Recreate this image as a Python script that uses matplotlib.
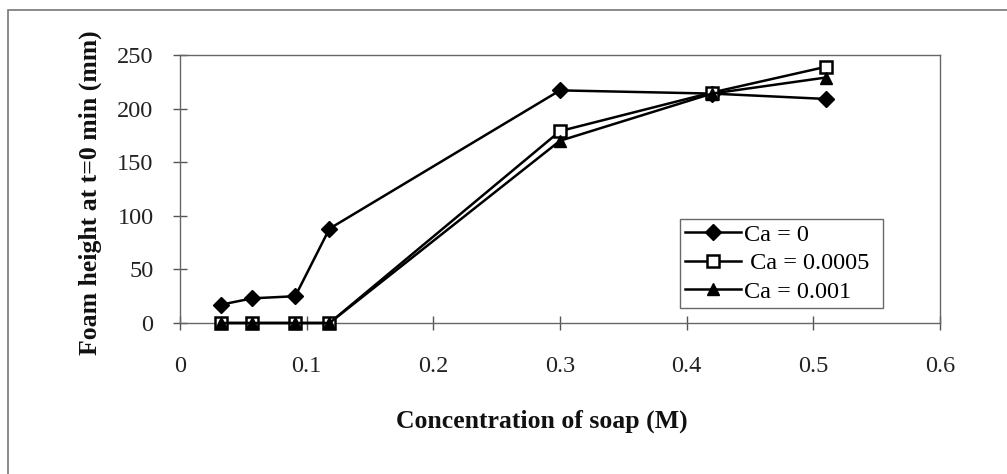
import matplotlib
matplotlib.use("Agg")
import matplotlib.pyplot as plt
from matplotlib.patches import Rectangle

plt.rcParams['font.family'] = ['Liberation Serif', 'DejaVu Serif']

conc = [0.032, 0.057, 0.091, 0.118, 0.30, 0.42, 0.51]
ca0 = [17, 23, 25, 88, 217, 214, 209]
ca0005 = [0, 0, 0, 0, 179, 215, 239]
ca001 = [0, 0, 0, 0, 170, 214, 229]
labels = ["Ca = 0", " Ca = 0.0005", "Ca = 0.001"]
xticks = [0, 0.1, 0.2, 0.3, 0.4, 0.5, 0.6]
yticks = [0, 50, 100, 150, 200, 250]

W, H = 1007, 474
fig = plt.figure(figsize=(W/100, H/100), dpi=100)
fig.patch.set_facecolor('white')
# outer chart frame (only left/top visible)
fig.add_artist(Rectangle((8/W, -0.1), 1.2, 1 - 10/H + 0.1, transform=fig.transFigure,
                         fill=False, edgecolor='#777777', linewidth=1.2))

ax = fig.add_axes([180/W, 1 - 323/H, (940-180)/W, (323-55)/H])
lw = 1.8
ax.plot(conc, ca0, color='black', lw=lw, marker='D', markersize=8,
        markerfacecolor='black', markeredgecolor='black', label=labels[0],
        zorder=3, clip_on=False)
ax.plot(conc, ca0005, color='black', lw=lw, marker='s', markersize=9,
        markerfacecolor='white', markeredgecolor='black', markeredgewidth=1.8,
        label=labels[1], zorder=4, clip_on=False)
ax.plot(conc, ca001, color='black', lw=lw, marker='^', markersize=9,
        markerfacecolor='black', markeredgecolor='black', label=labels[2],
        zorder=5, clip_on=False)

ax.set_xlim(0, 0.6)
ax.set_ylim(0, 250)
ax.set_xticks(xticks)
ax.set_xticklabels([f"{v:g}" for v in xticks])
ax.set_yticks(yticks)
for s in ax.spines.values():
    s.set_color('#666666')
    s.set_linewidth(1.0)
ax.tick_params(direction='inout', length=10, width=1.0, color='#555555',
               labelsize=17.5)
ax.tick_params(axis='x', pad=19)
ax.tick_params(axis='y', pad=14)
for lab in ax.get_xticklabels() + ax.get_yticklabels():
    lab.set_color('#222222')

fig.text(90/W, 1 - 193/H, "Foam height at t=0 min (mm)", fontsize=18.5, fontweight='bold',
         rotation=90, ha='center', va='center', color='#111111')
fig.text(542/W, 1 - 421/H, "Concentration of soap (M)", fontsize=18.5, fontweight='bold',
         ha='center', va='center', color='#111111')

leg = ax.legend(loc='lower left', bbox_to_anchor=(680/W, 1 - 308/H, (883-680)/W, (308-212)/H),
                bbox_transform=fig.transFigure, mode='expand', fontsize=17.5,
                frameon=True, fancybox=False, handlelength=2.3, handletextpad=0.1,
                borderpad=0.22, borderaxespad=0, labelspacing=0.26)
leg.get_frame().set_edgecolor('#444444')
leg.get_frame().set_linewidth(1.0)

fig.savefig("out.png", dpi=100, facecolor='white')
